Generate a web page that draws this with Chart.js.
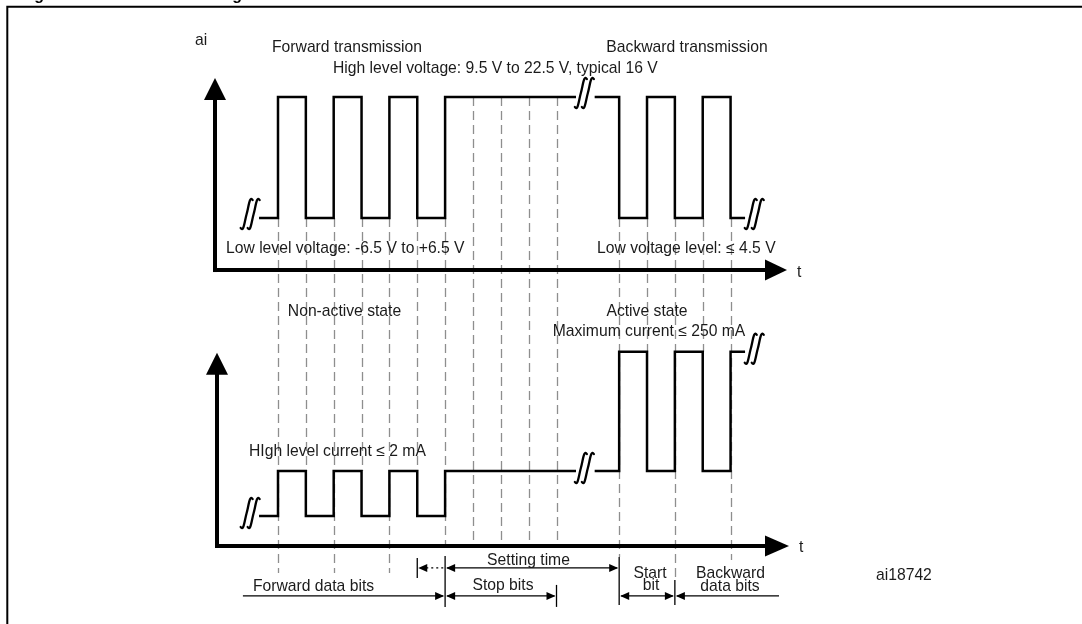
<!DOCTYPE html>
<html><head><meta charset="utf-8">
<script src="https://cdn.jsdelivr.net/npm/chart.js@4/dist/chart.umd.min.js"></script>
<style>html,body{margin:0;padding:0;background:#fff;overflow:hidden}canvas{display:block}</style>
</head><body>
<canvas id="c" width="1082" height="624"></canvas>
<script>
// ---- data (time in half-bit units, levels) ----
const edgeTimes     = [-0.68, 0, 1, 2, 3, 4, 5, 6, 10.7, 11, 11.37, 12.25, 13.25, 14.25, 15.25, 16.25, 16.77];
const voltageLevels = [0, 16, 0, 16, 0, 16, 0, 16, 16, null, 16, 0, 16, 0, 16, 0, 0];      // V (high 16 V typ., low 0 V)
const currentLevels = [0, 2, 0, 2, 0, 2, 0, 2, 2, null, 2, 7.3, 2, 7.3, 2, 7.3, 7.3];      // drawn current level (not to scale)
const breakTimes    = [-1.0, 11.0, 17.1];
const breakVoltage  = [0, 16, 0];
const breakCurrent  = [0, 2, 7.3];
const forwardEdges  = [0, 1, 2, 3, 4, 5, 6];
const stopTicks     = [7, 8, 9, 10];
const backwardEdges = [12.25, 13.25, 14.25, 15.25, 16.25];
const axisOriginV = -6.88, axisTipV = 18.5;
const axisOriginI = -1.33, axisTipI = 7.25;

const FONT = '15.7px "Liberation Sans", Arial, Helvetica, sans-serif';
const TXT = '#1b1b1b';

function headH(ctx, x, y, dir, len, half) {
  ctx.beginPath(); ctx.moveTo(x, y); ctx.lineTo(x - dir*len, y - half); ctx.lineTo(x - dir*len, y + half); ctx.closePath(); ctx.fill();
}
function breakMark(ctx, cx, cy) {
  ctx.save(); ctx.strokeStyle = '#000'; ctx.lineWidth = 2.3; ctx.lineCap = 'round';
  [-3.5, 3.5].forEach(dx => {
    const x = cx + dx;
    ctx.beginPath();
    ctx.moveTo(x - 6, cy + 14);
    ctx.bezierCurveTo(x - 3, cy + 19, x - 2, cy + 7, x, cy);
    ctx.bezierCurveTo(x + 2, cy - 7, x + 3, cy - 19, x + 6, cy - 14);
    ctx.stroke();
  });
  ctx.restore();
}

const diagram = {
  id: 'diagram',
  beforeDatasetsDraw(chart) {
    const ctx = chart.ctx, X = chart.scales.x, V = chart.scales.yV, I = chart.scales.yI;
    const vLow = V.getPixelForValue(0), vHigh = V.getPixelForValue(16);
    const iHigh = I.getPixelForValue(2), iAct = I.getPixelForValue(7.3), axI = I.getPixelForValue(axisOriginI);
    // frame + clipped title (only descenders show)
    ctx.save();
    ctx.fillStyle = '#000';
    ctx.font = 'bold 16px "Liberation Sans", Arial, sans-serif';
    ctx.textBaseline = 'alphabetic';
    ctx.textAlign = 'left';
    ctx.fillText('Figure 4.', 20, 0);
    ctx.textAlign = 'right';
    ctx.fillText('DALI bus timing', 242, 0);
    ctx.strokeStyle = '#000'; ctx.lineWidth = 2;
    ctx.beginPath(); ctx.moveTo(7.3, 640); ctx.lineTo(7.3, 6.7); ctx.lineTo(1100, 6.7); ctx.stroke();
    ctx.restore();
    // dashed guides
    const guides = [];
    forwardEdges.forEach((t, i) => {
      const end = (i === 6) ? axI : (i % 2 === 0 ? axI + 27 : iHigh);
      guides.push([t, vLow, end]);
    });
    stopTicks.forEach(t => guides.push([t, vHigh, axI]));
    const bEnds = [axI + 11, iAct, axI + 34, iAct, axI + 14];
    backwardEdges.forEach((t, i) => guides.push([t, vLow, bEnds[i]]));
    ctx.save();
    ctx.strokeStyle = '#8e8e8e'; ctx.lineWidth = 1.3; ctx.setLineDash([9, 5]);
    guides.forEach(([t, y0, y1]) => {
      const x = Math.round(X.getPixelForValue(t)) + 0.5;
      ctx.beginPath(); ctx.moveTo(x, y0); ctx.lineTo(x, y1); ctx.stroke();
    });
    ctx.restore();
  },
  afterDatasetsDraw(chart) {
    const ctx = chart.ctx, X = chart.scales.x, V = chart.scales.yV, I = chart.scales.yI, ca = chart.chartArea;
    const x = v => X.getPixelForValue(v);
    const axV = V.getPixelForValue(axisOriginV), tipV = V.getPixelForValue(axisTipV);
    const axI = I.getPixelForValue(axisOriginI), tipI = I.getPixelForValue(axisTipI);
    ctx.save();
    ctx.fillStyle = '#000'; ctx.strokeStyle = '#000';
    // axes
    ctx.lineWidth = 4; ctx.lineCap = 'butt';
    [[axV, tipV, ca.left - 1], [axI, tipI, ca.left + 1]].forEach(([ay, ty, ax]) => {
      ctx.beginPath(); ctx.moveTo(ax, ay + 2); ctx.lineTo(ax, ty + 20); ctx.stroke();
      ctx.beginPath(); ctx.moveTo(ax - 2, ay); ctx.lineTo(ca.right - 18, ay); ctx.stroke();
      ctx.beginPath(); ctx.moveTo(ax, ty); ctx.lineTo(ax - 11, ty + 22); ctx.lineTo(ax + 11, ty + 22); ctx.closePath(); ctx.fill();
      ctx.beginPath(); ctx.moveTo(ca.right + (ax > ca.left ? 2 : 0), ay); ctx.lineTo(ca.right - 22, ay - 10.5); ctx.lineTo(ca.right - 22, ay + 10.5); ctx.closePath(); ctx.fill();
    });
    // break marks
    breakTimes.forEach((t, i) => {
      breakMark(ctx, x(t), V.getPixelForValue(breakVoltage[i]) - 4);
      breakMark(ctx, x(t), I.getPixelForValue(breakCurrent[i]) - 3);
    });
    // dimension arrows
    const r1 = axI + 22, r2 = axI + 50;
    ctx.lineWidth = 1.3;
    const hl = (xa, xb, y) => { ctx.beginPath(); ctx.moveTo(xa, y); ctx.lineTo(xb, y); ctx.stroke(); };
    const vl = (xx, ya, yb) => { ctx.beginPath(); ctx.moveTo(xx, ya); ctx.lineTo(xx, yb); ctx.stroke(); };
    const x5 = x(5), x6 = x(6), x10 = x(10), xs = x(12.25), xb = x(14.25);
    vl(x5, r1 - 10, r1 + 10);
    vl(x6, r1 - 12, r2 + 11);
    vl(x10, r2 - 11, r2 + 11);
    vl(xs, r1 - 11, r2 + 9);
    vl(xb, r2 - 16, r2 + 9);
    ctx.save(); ctx.setLineDash([2, 3]); hl(x5 + 9, x6, r1); ctx.restore();
    headH(ctx, x5 + 1, r1, -1, 9, 4);
    hl(x6 + 2, xs - 2, r1); headH(ctx, x6 + 1, r1, -1, 9, 4); headH(ctx, xs - 1, r1, 1, 9, 4);
    hl(x(-1.26), x6 - 2, r2); headH(ctx, x6 - 1, r2, 1, 9, 4);
    hl(x6 + 2, x10 - 2, r2); headH(ctx, x6 + 1, r2, -1, 9, 4); headH(ctx, x10 - 1, r2, 1, 9, 4);
    hl(xs + 2, xb - 2, r2); headH(ctx, xs + 1, r2, -1, 9, 4); headH(ctx, xb - 1, r2, 1, 9, 4);
    hl(xb + 2, x(17.99), r2); headH(ctx, xb + 1, r2, -1, 9, 4);
    // texts
    ctx.fillStyle = TXT; ctx.font = FONT; ctx.textBaseline = 'alphabetic';
    const T = (s, px, py, align) => { ctx.textAlign = align || 'left'; ctx.fillText(s, px, py); };
    T('ai', 195, 45);
    T('Forward transmission', 347, 52, 'center');
    T('Backward transmission', 687, 52, 'center');
    T('High level voltage: 9.5 V to 22.5 V, typical 16 V', 333, 73);
    T('Low level voltage: -6.5 V to +6.5 V', 226, 252.5);
    T('Low voltage level: \u2264 4.5 V', 597, 252.5);
    T('t', 797, 277);
    T('Non-active state', 344.5, 315.5, 'center');
    T('Active state', 647, 316, 'center');
    T('Maximum current \u2264 250 mA', 649, 336, 'center');
    T('HIgh level current \u2264 2 mA', 249, 456);
    T('t', 799, 552);
    T('Setting time', 528.5, 565, 'center');
    T('Forward data bits', 313.5, 591, 'center');
    T('Stop bits', 503, 590, 'center');
    T('Start', 650, 578, 'center');
    T('bit', 651, 590, 'center');
    T('Backward', 730.5, 578, 'center');
    T('data bits', 730, 591, 'center');
    T('ai18742', 876, 580);
    ctx.restore();
  }
};

const pts = levels => edgeTimes.map((t, i) => ({ x: t, y: levels[i] }));
const chart = new Chart(document.getElementById('c'), {
  type: 'line',
  data: {
    datasets: [
      { label: 'Bus voltage', data: pts(voltageLevels), yAxisID: 'yV', stepped: true, borderColor: '#000', borderWidth: 2.5,
        borderJoinStyle: 'miter', borderCapStyle: 'butt', pointRadius: 0, fill: false, spanGaps: false },
      { label: 'Bus current', data: pts(currentLevels), yAxisID: 'yI', stepped: true, borderColor: '#000', borderWidth: 2.5,
        borderJoinStyle: 'miter', borderCapStyle: 'butt', pointRadius: 0, fill: false, spanGaps: false }
    ]
  },
  options: {
    responsive: false, animation: false, devicePixelRatio: 1,
    layout: { padding: { left: 216, right: 1082 - 787, top: 60, bottom: 624 - 560 } },
    plugins: { legend: { display: false }, tooltip: { enabled: false }, title: { display: false } },
    scales: {
      x:  { type: 'linear', min: -2.226, max: 18.276, display: false },
      yV: { type: 'linear', position: 'left', min: -45.223, max: 20.893, display: false },
      yI: { type: 'linear', position: 'left', min: -1.956, max: 20.267, display: false }
    }
  },
  plugins: [diagram]
});
</script>
</body></html>
